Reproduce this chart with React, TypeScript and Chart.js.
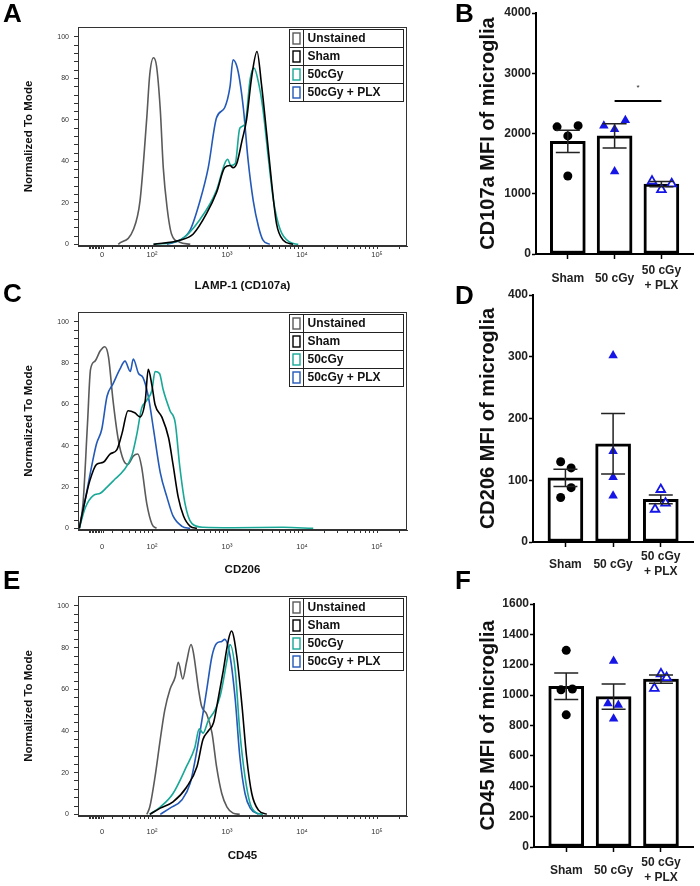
import React, { useEffect, useRef } from 'react';
import { Chart, registerables } from 'chart.js';

Chart.register(...registerables);

const FONT = '"Liberation Sans", Arial, Helvetica, sans-serif';

// ---------- histogram data (x in decades of the biexponential display; 0 sits at ZERO_POS) ----------
const ZERO_POS = 1.333;
const HIST_X_MIN = 1.013;
const HIST_X_MAX = 5.4;
const HIST_X_MAJOR = [ZERO_POS, 2, 3, 4, 5];
const HIST_X_LABELS = ['0', '10²', '10³', '10⁴', '10⁵'];
const LEGEND_LABELS = ['Unstained', 'Sham', '50cGy', '50cGy + PLX'];
const HIST_COLORS = ['#5a5a5a', '#000000', '#17a897', '#2359b8'];

const A_UNST_X = [1.55, 1.75, 1.84, 1.93, 1.97, 2.02, 2.06, 2.11, 2.15, 2.2, 2.26, 2.37, 2.51];
const A_UNST_Y = [0, 7, 21, 61, 82, 90, 86, 65, 37, 18, 5, 1, 0];
const A_SHAM_X = [2.02, 2.37, 2.55, 2.73, 2.86, 2.97, 3.04, 3.08, 3.13, 3.2, 3.26, 3.33, 3.4, 3.46, 3.53, 3.6, 3.66, 3.75, 3.88];
const A_SHAM_Y = [0, 2, 5, 15, 25, 37, 38, 37, 39, 50, 60, 81, 93, 77, 53, 28, 10, 2, 0];
const A_50_X = [2.02, 2.37, 2.64, 2.86, 2.97, 3.01, 3.05, 3.11, 3.17, 3.24, 3.31, 3.36, 3.42, 3.48, 3.55, 3.62, 3.71, 3.84, 3.95];
const A_50_Y = [0, 2, 12, 26, 39, 41, 38, 39, 56, 58, 80, 85, 78, 65, 42, 21, 7, 1, 0];
const A_PLX_X = [2.2, 2.37, 2.51, 2.64, 2.75, 2.86, 2.97, 3.04, 3.08, 3.13, 3.17, 3.22, 3.28, 3.35, 3.42, 3.48, 3.57];
const A_PLX_Y = [0, 2, 7, 21, 37, 61, 66, 76, 89, 86, 79, 65, 41, 21, 8.5, 2, 0];

const C_UNST_X = [1.03, 1.08, 1.14, 1.18, 1.24, 1.31, 1.37, 1.42, 1.48, 1.55, 1.62, 1.68, 1.75, 1.81, 1.86, 1.93, 2.0, 2.06];
const C_UNST_Y = [0, 12, 51, 77, 81, 86, 88, 83, 62, 43, 33, 31, 35, 36, 30, 12, 2, 0];
const C_SHAM_X = [1.03, 1.11, 1.17, 1.26, 1.35, 1.44, 1.53, 1.6, 1.68, 1.77, 1.84, 1.91, 1.95, 2.0, 2.04, 2.13, 2.22, 2.28, 2.35, 2.42, 2.51, 2.6];
const C_SHAM_Y = [0, 14, 23, 31, 32, 36, 38, 46, 57, 56, 54, 62, 77, 69, 60, 54, 44, 31, 15, 6, 1, 0];
const C_50_X = [1.03, 1.11, 1.22, 1.31, 1.4, 1.51, 1.62, 1.73, 1.8, 1.86, 1.93, 2.0, 2.04, 2.1, 2.15, 2.24, 2.31, 2.37, 2.44, 2.53, 2.68, 3.08, 3.75, 4.15];
const C_50_Y = [0, 10, 16, 17, 20, 24, 28, 35, 46, 58, 62, 67, 76, 75, 67, 57, 51, 30, 12, 2.4, 0.5, 0.3, 0.5, 0];
const C_PLX_X = [1.03, 1.11, 1.2, 1.26, 1.33, 1.4, 1.48, 1.57, 1.64, 1.71, 1.75, 1.82, 1.88, 1.95, 2.02, 2.11, 2.2, 2.28, 2.4, 2.51];
const C_PLX_Y = [0, 14, 31, 41, 48, 64, 70, 77, 81, 76, 82, 75, 73, 64, 48, 27, 15, 6, 1, 0];

const E_UNST_X = [1.93, 1.97, 2.04, 2.11, 2.17, 2.24, 2.31, 2.35, 2.41, 2.46, 2.52, 2.55, 2.62, 2.66, 2.73, 2.8, 2.86, 2.93, 3.0, 3.08, 3.17];
const E_UNST_Y = [0, 3.5, 18, 36, 50, 60, 66, 73, 65, 73, 81.5, 78, 60, 52, 48, 39, 23, 10, 3.5, 0.6, 0];
const E_SHAM_X = [1.97, 2.11, 2.28, 2.46, 2.6, 2.68, 2.75, 2.82, 2.88, 2.95, 3.02, 3.06, 3.13, 3.2, 3.26, 3.33, 3.42, 3.53];
const E_SHAM_Y = [0, 3, 6, 13, 23, 36, 40, 44, 55, 69, 84, 88, 76, 52, 28, 10, 2, 0];
const E_50_X = [1.97, 2.11, 2.28, 2.46, 2.57, 2.63, 2.68, 2.75, 2.84, 2.91, 3.0, 3.04, 3.11, 3.17, 3.24, 3.31, 3.4, 3.48];
const E_50_Y = [0, 3.5, 10, 23, 32, 41, 39, 45, 50, 57, 74, 81.5, 69, 40, 18, 5, 0.6, 0];
const E_PLX_X = [2.11, 2.24, 2.4, 2.51, 2.6, 2.66, 2.73, 2.8, 2.86, 2.93, 2.97, 3.04, 3.11, 3.17, 3.24, 3.31, 3.42];
const E_PLX_Y = [0, 3, 7, 15, 31, 44, 60, 76, 82, 83, 84, 76, 55, 28, 10, 3, 0];

// ---------- bar chart data ----------
const GROUPS = ['Sham', '50 cGy', ['50 cGy', '+ PLX']];

const B_MEAN = [1870, 1960, 1160];
const B_SEM = [185, 200, 45];
const B_SHAM = [2110, 2130, 1960, 1295];
const B_SHAM_JIT = [-0.23, 0.22, 0, 0];
const B_50 = [2130, 2070, 2220, 1370];
const B_50_JIT = [-0.23, 0, 0.23, 0];
const B_PLX = [1210, 1070, 1165];
const B_PLX_JIT = [-0.2, 0, 0.22];
const B_SIG = { from: 1, to: 2, y: 2540, starY: 2760, label: '*' };

const D_MEAN = [104, 159, 69];
const D_SEM = [14, 49, 7];
const D_SHAM = [130, 120, 88, 72];
const D_SHAM_JIT = [-0.1, 0.12, 0.12, -0.1];
const D_50 = [302, 147, 105, 75];
const D_50_JIT = [0, 0, 0, 0];
const D_PLX = [85, 53, 63];
const D_PLX_JIT = [0, -0.12, 0.1];

const F_MEAN = [1058, 990, 1105];
const F_SEM = [87, 83, 27];
const F_SHAM = [1295, 1035, 1040, 870];
const F_SHAM_JIT = [0, -0.11, 0.13, 0];
const F_50 = [1225, 945, 935, 845];
const F_50_JIT = [0, -0.12, 0.1, 0];
const F_PLX = [1045, 1140, 1115];
const F_PLX_JIT = [-0.14, 0, 0.12];

const BLUE = '#1515e6';

function buildHistTicks(): number[] {
  const t: number[] = [ZERO_POS];
  for (let v = 1.16; v < 1.32; v += 0.02) t.push(+v.toFixed(3));
  t.push(1.35);
  for (let k = 3; k <= 9; k++) t.push(2 + Math.log10(k / 10));
  for (let d = 2; d <= 5; d++) {
    t.push(d);
    if (d < 5) for (let k = 2; k <= 9; k++) t.push(d + Math.log10(k));
  }
  t.push(5 + Math.log10(2));
  return t.sort((a, b) => a - b);
}
const HIST_TICKS = buildHistTicks();
const HIST_Y_TICKS = Array.from({ length: 26 }, (_, i) => i * 4);

function histLabel(v: number): string {
  for (let i = 0; i < HIST_X_MAJOR.length; i++) {
    if (Math.abs(v - HIST_X_MAJOR[i]) < 1e-6) return HIST_X_LABELS[i];
  }
  return '';
}

type Series = { x: number[]; y: number[]; color: string };

function histConfig(p: {
  series: Series[];
  title: string;
  top: number;
  height: number;
  plotTop: number;
  plotBottom: number;
  tickPad: number;
}) {
  // drawn order: first listed is on top
  const order = [1, 2, 3, 0];
  const datasets = order.map((idx) => {
    const s = p.series[idx];
    return {
      data: s.x.map((x, i) => ({ x, y: s.y[i] })),
      borderColor: s.color,
      borderWidth: 1.6,
      pointRadius: 0,
      showLine: true,
      fill: false,
      cubicInterpolationMode: 'monotone',
    };
  });
  const titleFont = { family: FONT, size: 11.5, weight: 'bold' as const };
  const frameLegend = {
    id: 'frameLegend',
    afterDraw(chart: any) {
      const { ctx, chartArea: a } = chart;
      ctx.save();
      ctx.strokeStyle = '#333';
      ctx.lineWidth = 1;
      ctx.strokeRect(a.left + 0.5, a.top + 0.5, a.right - a.left - 1, a.bottom - a.top - 1);
      const w = 114;
      const rowH = 18;
      const lx = Math.round(a.right - 118) + 0.5;
      const ly = Math.round(a.top + 2) + 0.5;
      ctx.fillStyle = '#fff';
      ctx.fillRect(lx, ly, w, rowH * 4);
      ctx.strokeStyle = '#222';
      ctx.strokeRect(lx, ly, w, rowH * 4);
      for (let r = 1; r < 4; r++) {
        ctx.beginPath();
        ctx.moveTo(lx, ly + r * rowH);
        ctx.lineTo(lx + w, ly + r * rowH);
        ctx.stroke();
      }
      ctx.beginPath();
      ctx.moveTo(lx + 14, ly);
      ctx.lineTo(lx + 14, ly + rowH * 4);
      ctx.stroke();
      ctx.font = `bold 12px ${FONT}`;
      ctx.textBaseline = 'middle';
      ctx.textAlign = 'left';
      for (let r = 0; r < 4; r++) {
        const cy = ly + r * rowH + rowH / 2;
        ctx.strokeStyle = p.series[r].color;
        ctx.lineWidth = 1.4;
        ctx.strokeRect(lx + 3.5, cy - 5.5, 7, 11);
        ctx.fillStyle = '#111';
        ctx.fillText(LEGEND_LABELS[r], lx + 18, cy + 0.5);
      }
      ctx.restore();
    },
  };
  return {
    type: 'scatter',
    data: { datasets },
    options: {
      animation: false,
      responsive: false,
      layout: { padding: { top: p.plotTop - p.top, right: 13, left: 0, bottom: 0 } },
      plugins: { legend: { display: false }, tooltip: { enabled: false } },
      scales: {
        x: {
          type: 'linear',
          min: HIST_X_MIN,
          max: HIST_X_MAX,
          afterFit: (s: any) => {
            s.height = p.top + p.height - p.plotBottom;
          },
          afterBuildTicks: (s: any) => {
            s.ticks = HIST_TICKS.map((v) => ({ value: v }));
          },
          ticks: {
            autoSkip: false,
            maxRotation: 0,
            padding: p.tickPad,
            color: '#333',
            font: { family: FONT, size: 7.5 },
            callback: (v: number) => histLabel(v),
          },
          grid: { drawOnChartArea: false, tickLength: 3, color: '#333' },
          border: { color: '#333' },
          title: {
            display: true,
            text: p.title,
            color: '#111',
            font: titleFont,
            padding: { top: 0, bottom: p.top + p.height - 6.9 - (p.plotBottom + 40) },
          },
        },
        y: {
          type: 'linear',
          min: -0.8,
          max: 104.8,
          afterFit: (s: any) => {
            s.width = 78;
          },
          afterBuildTicks: (s: any) => {
            s.ticks = HIST_Y_TICKS.map((v) => ({ value: v }));
          },
          ticks: {
            autoSkip: false,
            padding: 5,
            color: '#333',
            font: { family: FONT, size: 7 },
            callback: (v: number) => (v % 20 === 0 ? String(v) : ''),
          },
          grid: { drawOnChartArea: false, tickLength: 4, color: '#333' },
          border: { color: '#333' },
          title: {
            display: true,
            text: 'Normalized To Mode',
            color: '#111',
            font: titleFont,
            padding: { top: 22, bottom: 0 },
          },
        },
      },
    },
    plugins: [frameLegend],
  };
}

function barConfig(p: {
  mean: number[];
  sem: number[];
  sham: number[];
  shamJit: number[];
  g50: number[];
  g50Jit: number[];
  plx: number[];
  plxJit: number[];
  max: number;
  step: number;
  yTitle: string;
  top: number;
  height: number;
  plotTop: number;
  plotBottom: number;
  plotLeft: number;
  labelPad: number;
  sig?: { from: number; to: number; y: number; starY: number; label: string };
}) {
  const canvasLeft = 420;
  const extras = {
    id: 'errSig',
    afterDatasetsDraw(chart: any) {
      const { ctx } = chart;
      const xs = chart.scales.x;
      const ys = chart.scales.y;
      ctx.save();
      ctx.strokeStyle = '#222';
      ctx.lineWidth = 1.5;
      p.mean.forEach((m, i) => {
        const x = xs.getPixelForValue(i);
        const yt = ys.getPixelForValue(m + p.sem[i]);
        const yb = ys.getPixelForValue(m - p.sem[i]);
        ctx.beginPath();
        ctx.moveTo(x, yt);
        ctx.lineTo(x, yb);
        ctx.moveTo(x - 12, yt);
        ctx.lineTo(x + 12, yt);
        ctx.moveTo(x - 12, yb);
        ctx.lineTo(x + 12, yb);
        ctx.stroke();
      });
      if (p.sig) {
        const s = p.sig;
        const y = ys.getPixelForValue(s.y);
        ctx.strokeStyle = '#000';
        ctx.lineWidth = 2;
        ctx.beginPath();
        ctx.moveTo(xs.getPixelForValue(s.from), y);
        ctx.lineTo(xs.getPixelForValue(s.to), y);
        ctx.stroke();
        ctx.fillStyle = '#222';
        ctx.font = `8px ${FONT}`;
        ctx.textAlign = 'center';
        ctx.textBaseline = 'middle';
        ctx.fillText(s.label, xs.getPixelForValue((s.from + s.to) / 2), ys.getPixelForValue(s.starY));
      }
      ctx.restore();
    },
  };
  const pts = (vals: number[], jit: number[], g: number) => vals.map((v, i) => ({ x: g + jit[i], y: v }));
  return {
    type: 'bar',
    data: {
      datasets: [
        {
          type: 'bar',
          data: p.mean.map((m, i) => ({ x: i, y: m })),
          backgroundColor: '#fff',
          borderColor: '#000',
          borderWidth: 3,
          borderSkipped: false,
          barThickness: 35,
          order: 3,
        },
        {
          type: 'scatter',
          data: pts(p.sham, p.shamJit, 0),
          pointStyle: 'circle',
          pointRadius: 4.5,
          backgroundColor: '#000',
          borderColor: '#000',
          borderWidth: 0,
          order: 1,
        },
        {
          type: 'scatter',
          data: pts(p.g50, p.g50Jit, 1),
          pointStyle: 'triangle',
          pointRadius: 5.5,
          backgroundColor: BLUE,
          borderColor: BLUE,
          borderWidth: 0,
          order: 1,
        },
        {
          type: 'scatter',
          data: pts(p.plx, p.plxJit, 2),
          pointStyle: 'triangle',
          pointRadius: 5,
          backgroundColor: '#fff',
          borderColor: BLUE,
          borderWidth: 1.8,
          order: 1,
        },
      ],
    },
    options: {
      animation: false,
      responsive: false,
      layout: { padding: { top: p.plotTop - p.top, right: 2, left: 0, bottom: 0 } },
      plugins: { legend: { display: false }, tooltip: { enabled: false } },
      scales: {
        x: {
          type: 'linear',
          min: -0.68,
          max: 2.68,
          offset: false,
          afterFit: (s: any) => {
            s.height = p.top + p.height - p.plotBottom;
          },
          afterBuildTicks: (s: any) => {
            s.ticks = [0, 1, 2].map((v) => ({ value: v }));
          },
          ticks: {
            autoSkip: false,
            maxRotation: 0,
            crossAlign: 'center',
            padding: p.labelPad,
            color: '#222',
            font: { family: FONT, size: 12, weight: 'bold', lineHeight: 1.2 },
            callback: (v: number) => GROUPS[Math.round(v)],
          },
          grid: { drawOnChartArea: false, offset: false, tickLength: 5, tickWidth: 1.5, color: '#000' },
          border: { color: '#000', width: 2 },
        },
        y: {
          type: 'linear',
          min: 0,
          max: p.max,
          afterFit: (s: any) => {
            s.width = p.plotLeft - canvasLeft;
          },
          ticks: {
            stepSize: p.step,
            padding: 1,
            color: '#222',
            font: { family: FONT, size: 12, weight: 'bold' },
            callback: (v: number) => String(v),
          },
          grid: { drawOnChartArea: false, tickLength: 4, tickWidth: 1.5, color: '#000' },
          border: { color: '#000', width: 2 },
          title: {
            display: true,
            text: p.yTitle,
            color: '#111',
            font: { family: FONT, size: 20, weight: 'bold' },
            padding: { top: 488 - canvasLeft - 12, bottom: 0 },
          },
        },
      },
    },
    plugins: [extras],
  };
}

function ChartBox({ make, left, top, width, height }: { make: () => any; left: number; top: number; width: number; height: number }) {
  const ref = useRef<HTMLCanvasElement | null>(null);
  useEffect(() => {
    if (!ref.current) return;
    const chart = new Chart(ref.current, make());
    return () => chart.destroy();
  }, []);
  return (
    <canvas
      ref={ref}
      width={width}
      height={height}
      style={{ position: 'absolute', left, top, width, height }}
    />
  );
}

function Letter({ ch, left, top }: { ch: string; left: number; top: number }) {
  return (
    <div
      style={{
        position: 'absolute',
        left,
        top,
        fontFamily: FONT,
        fontWeight: 'bold',
        fontSize: 26,
        lineHeight: 1,
        color: '#000',
      }}
    >
      {ch}
    </div>
  );
}

export default function App() {
  const sA: Series[] = [
    { x: A_UNST_X, y: A_UNST_Y, color: HIST_COLORS[0] },
    { x: A_SHAM_X, y: A_SHAM_Y, color: HIST_COLORS[1] },
    { x: A_50_X, y: A_50_Y, color: HIST_COLORS[2] },
    { x: A_PLX_X, y: A_PLX_Y, color: HIST_COLORS[3] },
  ];
  const sC: Series[] = [
    { x: C_UNST_X, y: C_UNST_Y, color: HIST_COLORS[0] },
    { x: C_SHAM_X, y: C_SHAM_Y, color: HIST_COLORS[1] },
    { x: C_50_X, y: C_50_Y, color: HIST_COLORS[2] },
    { x: C_PLX_X, y: C_PLX_Y, color: HIST_COLORS[3] },
  ];
  const sE: Series[] = [
    { x: E_UNST_X, y: E_UNST_Y, color: HIST_COLORS[0] },
    { x: E_SHAM_X, y: E_SHAM_Y, color: HIST_COLORS[1] },
    { x: E_50_X, y: E_50_Y, color: HIST_COLORS[2] },
    { x: E_PLX_X, y: E_PLX_Y, color: HIST_COLORS[3] },
  ];
  return (
    <div style={{ position: 'absolute', left: 0, top: 0, width: 700, height: 886, background: '#fff', overflow: 'hidden' }}>
      <ChartBox
        left={0}
        top={0}
        width={420}
        height={300}
        make={() => histConfig({ series: sA, title: 'LAMP-1 (CD107a)', top: 0, height: 300, plotTop: 27, plotBottom: 246, tickPad: 1 })}
      />
      <ChartBox
        left={0}
        top={285}
        width={420}
        height={300}
        make={() => histConfig({ series: sC, title: 'CD206', top: 285, height: 300, plotTop: 312, plotBottom: 530, tickPad: 9 })}
      />
      <ChartBox
        left={0}
        top={570}
        width={420}
        height={300}
        make={() => histConfig({ series: sE, title: 'CD45', top: 570, height: 300, plotTop: 596, plotBottom: 816, tickPad: 8 })}
      />
      <ChartBox
        left={420}
        top={0}
        width={280}
        height={300}
        make={() =>
          barConfig({
            mean: B_MEAN, sem: B_SEM, sham: B_SHAM, shamJit: B_SHAM_JIT, g50: B_50, g50Jit: B_50_JIT, plx: B_PLX, plxJit: B_PLX_JIT,
            max: 4000, step: 1000, yTitle: 'CD107a MFI of microglia', top: 0, height: 300, plotTop: 13, plotBottom: 254, plotLeft: 536, labelPad: 12, sig: B_SIG,
          })
        }
      />
      <ChartBox
        left={420}
        top={285}
        width={280}
        height={300}
        make={() =>
          barConfig({
            mean: D_MEAN, sem: D_SEM, sham: D_SHAM, shamJit: D_SHAM_JIT, g50: D_50, g50Jit: D_50_JIT, plx: D_PLX, plxJit: D_PLX_JIT,
            max: 400, step: 100, yTitle: 'CD206 MFI of microglia', top: 285, height: 300, plotTop: 295, plotBottom: 542, plotLeft: 533, labelPad: 10,
          })
        }
      />
      <ChartBox
        left={420}
        top={570}
        width={280}
        height={316}
        make={() =>
          barConfig({
            mean: F_MEAN, sem: F_SEM, sham: F_SHAM, shamJit: F_SHAM_JIT, g50: F_50, g50Jit: F_50_JIT, plx: F_PLX, plxJit: F_PLX_JIT,
            max: 1600, step: 200, yTitle: 'CD45 MFI of microglia', top: 570, height: 316, plotTop: 604, plotBottom: 847, plotLeft: 534, labelPad: 11,
          })
        }
      />
      <Letter ch="A" left={3} top={0} />
      <Letter ch="B" left={455} top={0} />
      <Letter ch="C" left={3} top={280} />
      <Letter ch="D" left={455} top={282} />
      <Letter ch="E" left={3} top={567} />
      <Letter ch="F" left={455} top={567} />
    </div>
  );
}
